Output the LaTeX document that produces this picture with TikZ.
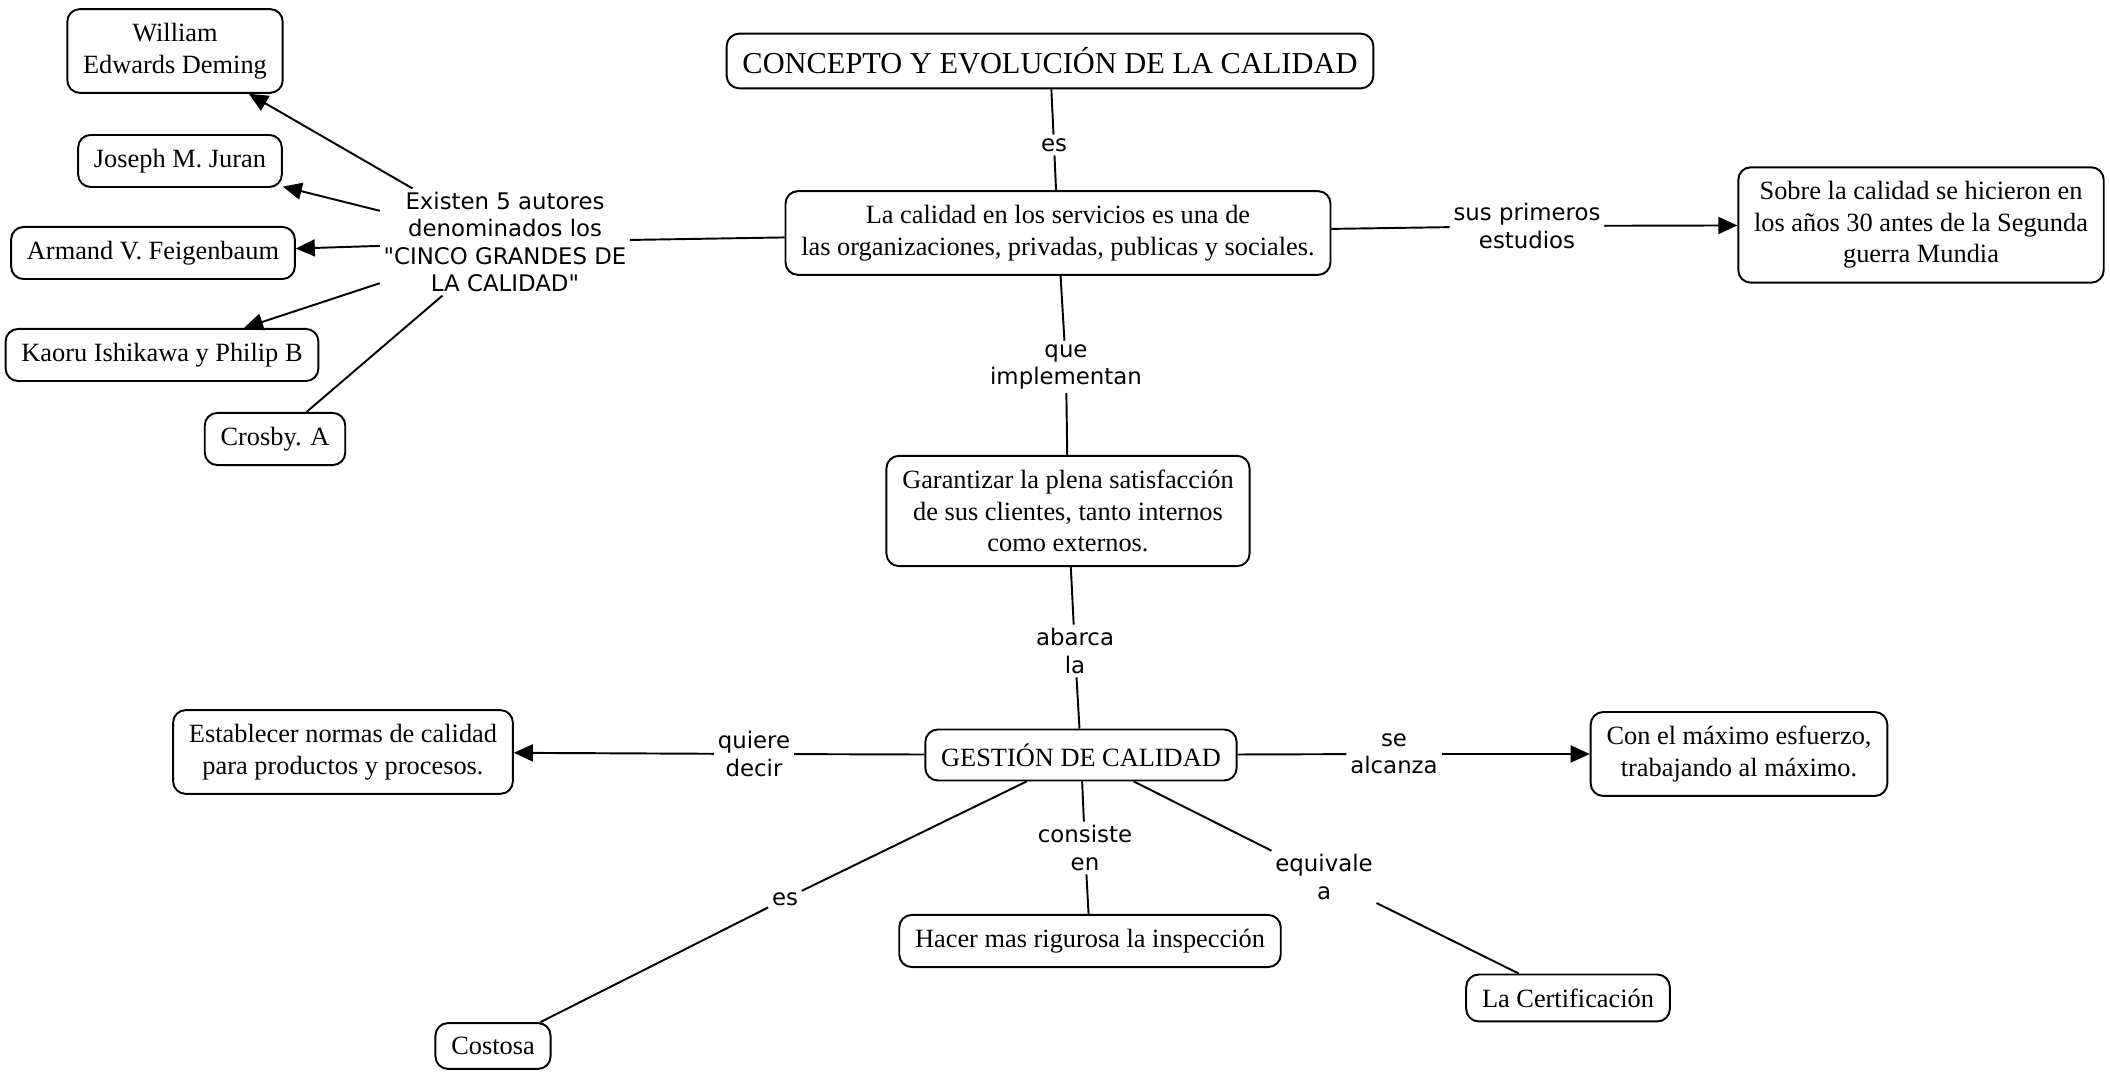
\documentclass[tikz,border=0pt]{standalone}
\usepackage{fontspec}
\setmainfont{Liberation Serif}
\newfontfamily\labelfont{DejaVu Sans}
\usetikzlibrary{arrows.meta}

\begin{document}
\begin{tikzpicture}[scale=2,
  concept/.style={draw, line width=1.1pt, rounded corners=0.25cm, align=center, inner xsep=9pt, inner ysep=8pt, font=\fontsize{15}{18}\selectfont},
  linking/.style={align=center, inner sep=2pt, font=\labelfont\fontsize{13}{15.5}\selectfont},
  link/.style={line width=1.1pt},
  tolink/.style={line width=1.1pt, -{Triangle[length=0.38cm, width=0.34cm]}}]

\useasboundingbox (0,0) rectangle (21.1,10.8);

% top: title and first statement
\node[concept, font=\fontsize{17.3}{20}\selectfont] (title) at (10.50,10.19) {CONCEPTO Y EVOLUCIÓN DE LA CALIDAD};
\node[linking] (es1) at (10.54,9.35) {es};
\node[concept] (calidad) at (10.58,8.47) {La calidad en los servicios es una de\\las organizaciones, privadas, publicas y sociales.};

\draw[link] (title) -- (es1) -- (calidad);

% right: first studies
\node[linking] (primeros) at (15.27,8.54) {sus primeros\\estudios};
\node[concept] (sobre) at (19.21,8.55) {Sobre la calidad se hicieron en\\los años 30 antes de la Segunda\\guerra Mundia};

\draw[link] (calidad) -- (primeros);
\draw[tolink] (primeros) -- (sobre);

% left: the five authors
\node[linking] (autores) at (5.05,8.38) {Existen 5 autores\\denominados los\\"CINCO GRANDES DE\\LA CALIDAD"};
\node[concept] (deming) at (1.75,10.29) {William\\Edwards Deming};
\node[concept] (juran) at (1.80,9.19) {Joseph M. Juran};
\node[concept] (feigenbaum) at (1.53,8.27) {Armand V. Feigenbaum};
\node[concept] (ishikawa) at (1.62,7.25) {Kaoru Ishikawa y Philip B};
\node[concept] (crosby) at (2.75,6.41) {Crosby. A};

\draw[link] (calidad) -- (autores);
\draw[tolink] (autores) -- (deming);
\draw[tolink] (autores) -- (juran);
\draw[tolink] (autores) -- (feigenbaum);
\draw[tolink] (autores) -- (ishikawa);
\draw[link] (autores) -- (crosby);

% middle: satisfaction and management
\node[linking] (implementan) at (10.66,7.13) {que\\implementan};
\node[concept] (garantizar) at (10.68,5.69) {Garantizar la plena satisfacción\\de sus clientes, tanto internos\\como externos.};
\node[linking] (abarca) at (10.75,4.29) {abarca\\la};
\node[concept] (gestion) at (10.81,3.25) {GESTIÓN DE CALIDAD};

\draw[link] (calidad) -- (implementan) -- (garantizar);
\draw[link] (garantizar) -- (abarca) -- (gestion);

% bottom: branches of gestion
\node[linking] (quiere) at (7.54,3.26) {quiere\\decir};
\node[concept] (normas) at (3.43,3.28) {Establecer normas de calidad\\para productos y procesos.};
\node[linking] (alcanza) at (13.94,3.26) {se\\alcanza};
\node[concept] (esfuerzo) at (17.39,3.26) {Con el máximo esfuerzo,\\trabajando al máximo.};
\node[linking] (consiste) at (10.85,2.32) {consiste\\en};
\node[concept] (hacer) at (10.90,1.39) {Hacer mas rigurosa la inspección};
\node[linking] (equivale) at (13.24,2.03) {equivale\\a};
\node[concept] (certif) at (15.68,0.82) {La Certificación};
\node[linking] (es2) at (7.85,1.81) {es};
\node[concept] (costosa) at (4.93,0.34) {Costosa};

\draw[link] (gestion) -- (quiere);
\draw[tolink] (quiere) -- (normas);
\draw[link] (gestion) -- (alcanza);
\draw[tolink] (alcanza) -- (esfuerzo);
\draw[link] (gestion) -- (consiste) -- (hacer);
\draw[link] (gestion) -- (equivale) -- (certif);
\draw[link] (gestion) -- (es2) -- (costosa);

\end{tikzpicture}
\end{document}
